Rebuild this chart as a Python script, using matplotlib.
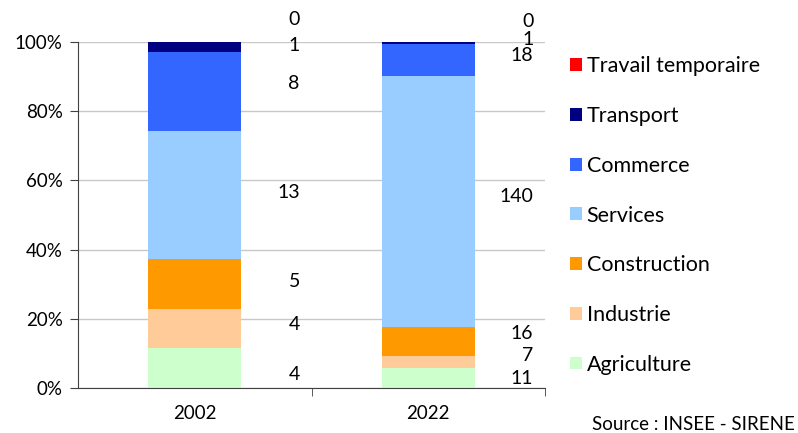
import numpy as np
from matplotlib import pyplot as plt

# données
annees = ["2002", "2022"]
secteurs = ["Agriculture", "Industrie", "Construction", "Services",
            "Commerce", "Transport", "Travail temporaire"]
v2002 = [4, 4, 5, 13, 8, 1, 0]
v2022 = [11, 7, 16, 140, 18, 1, 0]
couleurs = ["#CCFFCC", "#FFCC99", "#FF9900", "#99CCFF",
            "#3366FF", "#000080", "#FF0000"]

# décalage vertical des étiquettes (en points de %)
decal = [[-1.7, 1.1, 0.9, 0.7, 2.3, 0.4, 6.6],
         [0.0, 2.0, 2.4, 1.6, 1.4, 0.9, 5.8]]

plt.rcParams['font.family'] = ['Lato', 'DejaVu Sans']
fig = plt.figure(figsize=(7.98, 4.33), dpi=100)
ax = fig.add_axes([78/798, 1-388/433, (545-78)/798, (388-42)/433])

vals = np.array([v2002, v2022], dtype=float)
pct = vals / vals.sum(axis=1, keepdims=True) * 100
x = np.arange(len(annees))
bas = np.zeros(len(annees))
for i, s in enumerate(secteurs):
    ax.bar(x, pct[:, i], 0.4, bottom=bas, color=couleurs[i], label=s, zorder=2)
    for j in range(len(annees)):
        yc = bas[j] + pct[j, i] / 2 + decal[j][i]
        ax.text(x[j] + 0.45, yc, str(int(vals[j, i])), ha='right', va='center',
                fontsize=14, clip_on=False)
    bas += pct[:, i]

ax.set_xlim(-0.5, 1.5)
ax.set_ylim(0, 100)
ax.set_yticks(range(0, 101, 20))
ax.set_yticklabels([f"{v}%" for v in range(0, 101, 20)], fontsize=13.5)
ax.set_xticks(x)
ax.set_xticklabels(annees, fontsize=13.5)
ax.tick_params(axis='x', length=0, pad=12)
ax.set_xticks([0.5, 1.5], minor=True)
ax.tick_params(axis='x', which='minor', length=6, direction='out', color='#404040')
ax.tick_params(axis='y', length=6, color='#404040', pad=5)
ax.grid(axis='y', color='#C8C8C8', lw=1, zorder=0)
for sp in ['top', 'right']:
    ax.spines[sp].set_visible(False)
for sp in ['left', 'bottom']:
    ax.spines[sp].set_color('#404040')

h, l = ax.get_legend_handles_labels()
fig.legend(h[::-1], l[::-1], loc='upper left', bbox_to_anchor=(551/798, 1-37/433),
           frameon=False, fontsize=15.5, handlelength=0.55, handleheight=0.55,
           handletextpad=0.2, labelspacing=1.38)

fig.text(795/798, 1-425/433, "Source : INSEE - SIRENE", ha='right', va='center',
         fontsize=13.5)

plt.savefig("out.png", dpi=100)
